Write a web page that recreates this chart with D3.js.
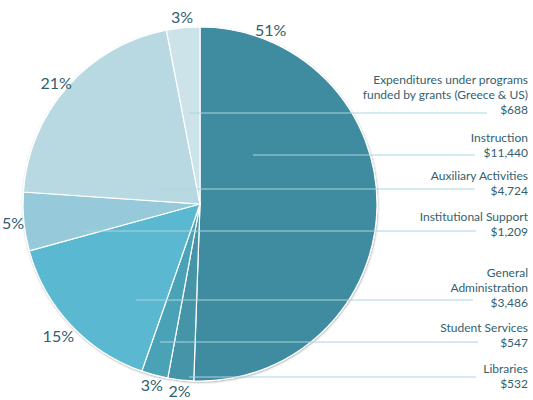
<!DOCTYPE html>
<html>
<head>
<meta charset="utf-8">
<script src="https://cdn.jsdelivr.net/npm/d3@7"></script>
<style>
  body { margin: 0; background: #fff; }
  svg text { font-family: Lato, "Open Sans", sans-serif; }
</style>
</head>
<body>
<div id="chart"></div>
<script>
// slices, clockwise from 12 o'clock
const categories = ['Instruction', 'Libraries', 'Student Services', 'General Administration',
  'Institutional Support', 'Auxiliary Activities', 'Expenditures under programs funded by grants (Greece & US)'];
const amounts = [11440, 532, 547, 3486, 1209, 4724, 688];
const percentLabels = ['51%', '2%', '3%', '15%', '5%', '21%', '3%'];
const colors = ['#3f8b9f', '#4594a8', '#4aa2b7', '#5ab8d0', '#96c9d9', '#b8d8e2', '#cde3ea'];

// legend on the right, top to bottom
const legendLines = [
  ['Expenditures under programs', 'funded by grants (Greece & US)', '$688'],
  ['Instruction', '$11,440'],
  ['Auxiliary Activities', '$4,724'],
  ['Institutional Support', '$1,209'],
  ['General', 'Administration', '$3,486'],
  ['Student Services', '$547'],
  ['Libraries', '$532']
];

const config = {
  width: 533, height: 400,
  cx: 200, cy: 204, r: 177,
  labelR: 188,
  textRight: 528,
  lineHeight: 15
};

const svg = d3.select('#chart').append('svg')
  .attr('width', config.width)
  .attr('height', config.height);

const defs = svg.append('defs');
const shadow = defs.append('filter').attr('id', 'shadow')
  .attr('x', '-10%').attr('y', '-10%').attr('width', '120%').attr('height', '120%');
shadow.append('feDropShadow')
  .attr('dx', 0.5).attr('dy', 1).attr('stdDeviation', 1.3)
  .attr('flood-color', '#000').attr('flood-opacity', 0.35);

const pie = d3.pie().sort(null).value(d => d);
const arcs = pie(amounts);
const arc = d3.arc().innerRadius(0).outerRadius(config.r);

const g = svg.append('g').attr('transform', `translate(${config.cx},${config.cy})`);

g.append('circle')
  .attr('r', config.r + 0.5)
  .attr('fill', '#fff')
  .attr('filter', 'url(#shadow)');

g.selectAll('path.slice')
  .data(arcs)
  .enter()
  .append('path')
  .attr('class', 'slice')
  .attr('d', arc)
  .attr('fill', (d, i) => colors[i])
  .attr('stroke', '#fff')
  .attr('stroke-width', 1.2);

// percent labels just outside the rim
g.selectAll('text.pct')
  .data(arcs)
  .enter()
  .append('text')
  .attr('class', 'pct')
  .attr('transform', (d, i) => {
    let a = (d.startAngle + d.endAngle) / 2;
    let r = config.labelR;
    if (i === 0) a = d.startAngle + 0.385; // big slice label sits near its start
    if (i === 3) r = 194;
    if (i === 5) a -= 0.025;
    return `translate(${Math.sin(a) * r},${-Math.cos(a) * r})`;
  })
  .attr('text-anchor', 'middle')
  .attr('dy', '0.36em')
  .attr('font-size', 16)
  .attr('fill', '#2f5f6d')
  .text((d, i) => percentLabels[i]);

// legend: leader lines and text blocks (baseline of the amount line)
const lineY = [113, 155, 189, 231, 300, 342, 377];
const lineStart = [189, 253, 160, 85, 136, 160, 189];
const lineEnd = [487, 475, 475, 476, 473, 478, 476];
const amountBaseline = [114, 157, 195, 236, 307, 347, 388];

const legend = svg.append('g');
legend.selectAll('line')
  .data(legendLines)
  .enter()
  .append('line')
  .attr('x1', (d, i) => lineStart[i])
  .attr('x2', (d, i) => lineEnd[i])
  .attr('y1', (d, i) => lineY[i])
  .attr('y2', (d, i) => lineY[i])
  .attr('stroke', '#a9d6e2')
  .attr('stroke-width', 1);

legend.selectAll('text')
  .data(legendLines)
  .enter()
  .append('text')
  .attr('text-anchor', 'end')
  .attr('font-size', 12)
  .attr('fill', '#33616f')
  .each(function(d, i) {
    const t = d3.select(this);
    const n = d.length;
    d.forEach((s, k) => {
      t.append('tspan')
        .attr('x', config.textRight)
        .attr('y', amountBaseline[i] - (n - 1 - k) * config.lineHeight)
        .text(s);
    });
  });
</script>
</body>
</html>
